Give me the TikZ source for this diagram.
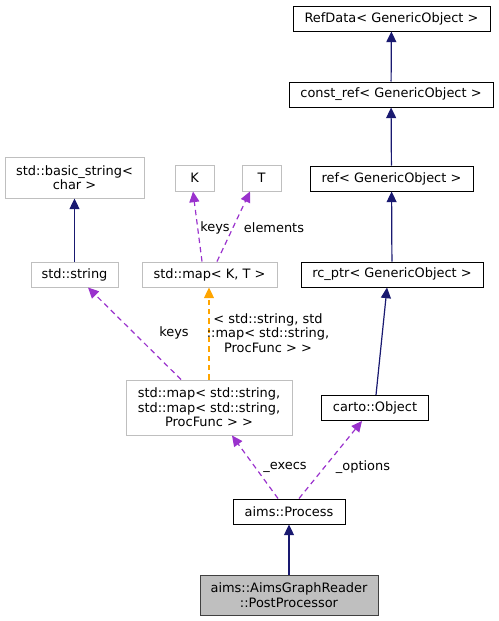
\documentclass[tikz,border=0pt]{standalone}
\usepackage{fontspec}
\setmainfont{DejaVu Sans}
\usetikzlibrary{arrows.meta}
\newlength{\px}
\setlength{\px}{0.75pt}
\definecolor{navyedge}{HTML}{191970}
\definecolor{useedge}{HTML}{9A32CD}
\definecolor{tmpledge}{HTML}{FFA500}
\definecolor{greyline}{HTML}{BFBFBF}
\definecolor{greyframe}{HTML}{404040}
\definecolor{greyfill}{HTML}{BFBFBF}
\tikzset{
  klass/.style={draw=black, line width=1\px, inner sep=0pt, align=center,
    font=\fontsize{9.7}{10.9}\selectfont},
  extklass/.style={klass, draw=greyline},
  mainklass/.style={klass, draw=greyframe, fill=greyfill},
  inherit/.style={draw=navyedge, line width=0.9pt,
    -{Triangle[length=8pt,width=7.5pt]}},
  usage/.style={draw=useedge, line width=0.9pt, dash pattern=on 4pt off 3pt,
    -{Triangle[length=8pt,width=7.5pt]}},
  tmpl/.style={usage, draw=tmpledge},
  elabel/.style={inner sep=0pt, align=center, font=\fontsize{9.7}{10.9}\selectfont},
}

\begin{document}
\begin{tikzpicture}[x=\px, y=-\px]
    \useasboundingbox (0,0) rectangle (499,621);
    %ref chain on the right
    \node[klass, minimum width=197\px, minimum height=25\px] (refdata) at (391.5,18.5) {RefData< GenericObject >};
    \node[klass, minimum width=204\px, minimum height=25\px] (constref) at (391,94.5) {const\_ref< GenericObject >};
    \node[klass, minimum width=163\px, minimum height=25\px] (refobj) at (391.5,178.5) {ref< GenericObject >};
    \node[klass, minimum width=182\px, minimum height=25\px] (rcptr) at (392,274.5) {rc\_ptr< GenericObject >};
    \node[klass, minimum width=107\px, minimum height=25\px] (carto) at (375,408) {carto::Object};
    %process and the class itself
    \node[klass, minimum width=112\px, minimum height=25\px] (process) at (289,511.5) {aims::Process};
    \node[mainklass, minimum width=178\px, minimum height=40\px] (post) at (289,595) {aims::AimsGraphReader\\::PostProcessor};
    %std containers
    \node[extklass, minimum width=166\px, minimum height=55\px] (strmap) at (209,407.5) {std::map< std::string,\\ std::map< std::string,\\ProcFunc > >};
    \node[extklass, minimum width=87\px, minimum height=25\px] (string) at (74.5,274.5) {std::string};
    \node[extklass, minimum width=135\px, minimum height=25\px] (mapkt) at (209.5,274.5) {std::map< K, T >};
    \node[extklass, minimum width=139\px, minimum height=41\px] (basicstr) at (74.5,177.5) {std::basic\_string<\\char >};
    \node[extklass, minimum width=39\px, minimum height=26\px] (keyk) at (194.5,178) {K};
    \node[extklass, minimum width=39\px, minimum height=26\px] (valt) at (261.5,178) {T};
    %inheritance
    \draw[inherit] (post) -- (process);
    \draw[inherit] (rcptr) -- (refobj);
    \draw[inherit] (refobj) -- (constref);
    \draw[inherit] (constref) -- (refdata);
    \draw[inherit] (string) -- (basicstr);
    \draw[inherit] ([xshift=1\px]carto.north) -- ([xshift=-5\px]rcptr.south);
    %usage
    \draw[usage] ([xshift=-11\px]process.north) -- ([xshift=23\px]strmap.south);
    \draw[usage] ([xshift=10\px]process.north) -- ([xshift=-13\px]carto.south);
    \draw[usage] ([xshift=-28\px]strmap.north) -- ([xshift=13.5\px]string.south);
    \draw[usage] ([xshift=-7.5\px]mapkt.north) -- ([xshift=-1.5\px]keyk.south);
    \draw[usage] ([xshift=7.5\px]mapkt.north) -- ([xshift=-11.5\px]valt.south);
    \draw[tmpl] (strmap.north) -- (strmap.north |- mapkt.south);
    %edge labels
    \node[elabel] (lblexecs) at (285,467) {\_execs};
    \node[elabel] (lbloptions) at (363,467) {\_options};
    \node[elabel] (lblkeys) at (174,333) {keys};
    \node[elabel] (lblkeysk) at (215,228) {keys};
    \node[elabel] (lblelems) at (274,228) {elements};
    \node[elabel] (lbltmpl) at (268,333) {< std::string, std\\::map< std::string,\\ProcFunc > >};
  \end{tikzpicture}
\end{document}
